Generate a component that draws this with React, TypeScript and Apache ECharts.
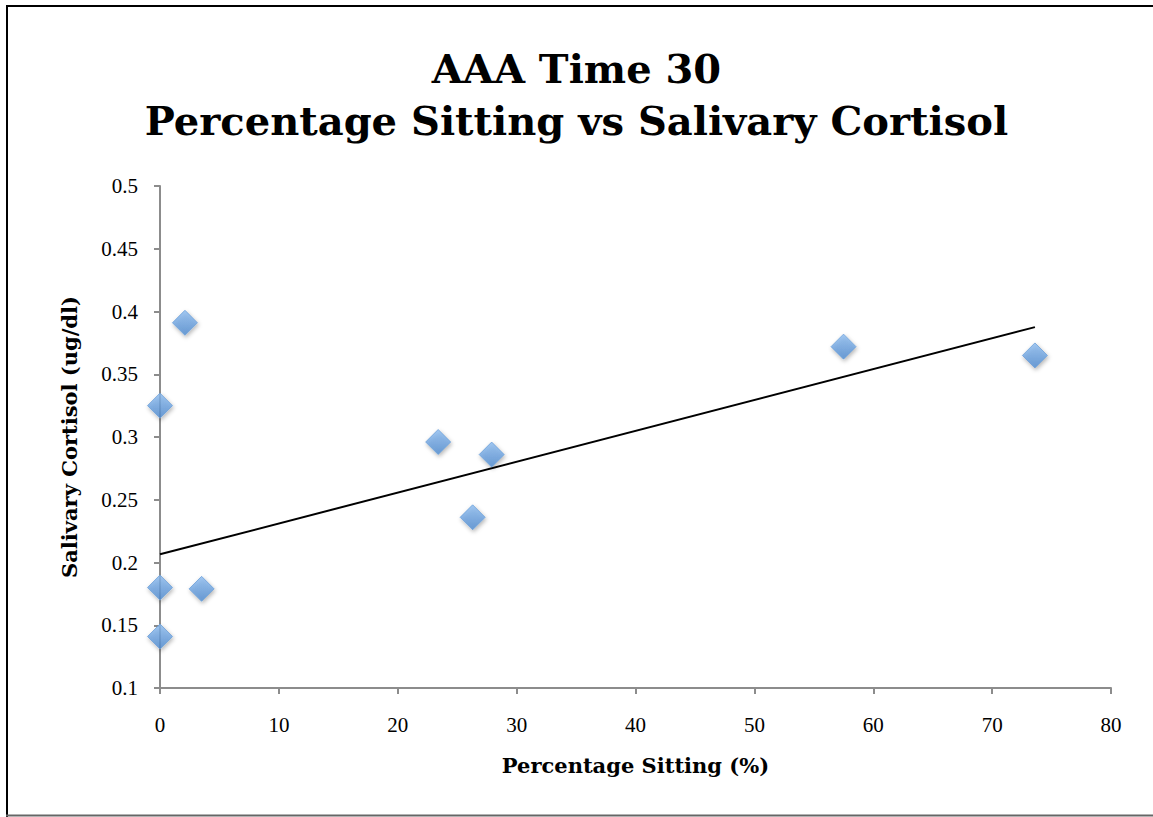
import React, { useEffect, useRef } from "react";
import * as echarts from "echarts";

// Percentage of time sitting vs salivary cortisol, AAA time 30
const sittingPct = [0, 2.1, 0, 3.5, 0, 23.4, 26.3, 27.9, 57.5, 73.6];
const cortisol = [0.325, 0.391, 0.18, 0.179, 0.141, 0.296, 0.236, 0.286, 0.372, 0.365];

// Linear trendline drawn across the observed sitting range
const trendX = [0, 73.6];
const trendIntercept = 0.2065;
const trendSlope = 0.00246;

const xTicks = [0, 10, 20, 30, 40, 50, 60, 70, 80];
const yTicks = [0.1, 0.15, 0.2, 0.25, 0.3, 0.35, 0.4, 0.45, 0.5];

const TITLE_FONT = "'DejaVu Serif', 'Liberation Serif', serif";
const LABEL_FONT = "'Liberation Serif', 'DejaVu Serif', serif";
const AXIS_GRAY = "#8c8c8c";

export default function App() {
  const ref = useRef<HTMLDivElement>(null);

  useEffect(() => {
    if (!ref.current) return;
    const chart = echarts.init(ref.current, undefined, { renderer: "svg" });

    const points = sittingPct.map((x, i) => [x, cortisol[i]]);
    const trend = trendX.map((x) => [x, trendIntercept + trendSlope * x]);

    chart.setOption({
      animation: false,
      backgroundColor: "#ffffff",
      title: {
        text: "AAA Time 30\nPercentage Sitting vs Salivary Cortisol",
        left: "center",
        top: 37,
        textStyle: {
          fontFamily: TITLE_FONT,
          fontWeight: "bold",
          fontSize: 40,
          lineHeight: 52,
          color: "#000",
        },
      },
      grid: { left: 160, right: 42, top: 186, bottom: 129 },
      xAxis: {
        type: "value",
        min: xTicks[0],
        max: xTicks[xTicks.length - 1],
        interval: 10,
        name: "Percentage Sitting (%)",
        nameLocation: "middle",
        nameGap: 67,
        nameTextStyle: { fontFamily: TITLE_FONT, fontWeight: "bold", fontSize: 21, color: "#000" },
        axisLine: { onZero: false, lineStyle: { color: AXIS_GRAY, width: 2 } },
        axisTick: { show: true, inside: false, length: 6, lineStyle: { color: AXIS_GRAY, width: 2 } },
        axisLabel: { margin: 26, fontFamily: LABEL_FONT, fontSize: 21, color: "#000" },
        splitLine: { show: false },
      },
      yAxis: {
        type: "value",
        min: yTicks[0],
        max: yTicks[yTicks.length - 1],
        interval: 0.05,
        name: "Salivary Cortisol (ug/dl)",
        nameLocation: "middle",
        nameGap: 80,
        nameTextStyle: { fontFamily: TITLE_FONT, fontWeight: "bold", fontSize: 21, color: "#000" },
        axisLine: { onZero: false, lineStyle: { color: AXIS_GRAY, width: 2 } },
        axisTick: { show: true, inside: false, length: 6, lineStyle: { color: AXIS_GRAY, width: 2 } },
        axisLabel: {
          margin: 22,
          fontFamily: LABEL_FONT,
          fontSize: 21,
          color: "#000",
          formatter: (v: number) => String(Math.round(v * 100) / 100),
        },
        splitLine: { show: false },
      },
      series: [
        {
          type: "line",
          data: trend,
          symbol: "none",
          lineStyle: { color: "#000", width: 2 },
          z: 2,
        },
        {
          type: "scatter",
          data: points,
          symbol: "diamond",
          symbolSize: [25, 25],
          itemStyle: {
            color: new echarts.graphic.LinearGradient(0, 0, 0, 1, [
              { offset: 0, color: "#8dbcf0" },
              { offset: 1, color: "#4f8bd0" },
            ]),
            borderColor: "#6a9fd8",
            borderWidth: 1,
            shadowColor: "rgba(0,0,0,0.35)",
            shadowBlur: 4,
            shadowOffsetX: 1,
            shadowOffsetY: 2,
          },
          z: 3,
        },
      ],
      graphic: [
        { type: "line", shape: { x1: 6, y1: 6, x2: 1153, y2: 6 }, style: { stroke: "#000", lineWidth: 2 } },
        { type: "line", shape: { x1: 7, y1: 5, x2: 7, y2: 817 }, style: { stroke: "#000", lineWidth: 2 } },
        { type: "line", shape: { x1: 6, y1: 815.5, x2: 1153, y2: 815.5 }, style: { stroke: "#666", lineWidth: 2 } },
      ],
    });

    return () => chart.dispose();
  }, []);

  return (
    <div
      ref={ref}
      style={{ position: "fixed", left: 0, top: 0, width: 1153, height: 817 }}
    />
  );
}
